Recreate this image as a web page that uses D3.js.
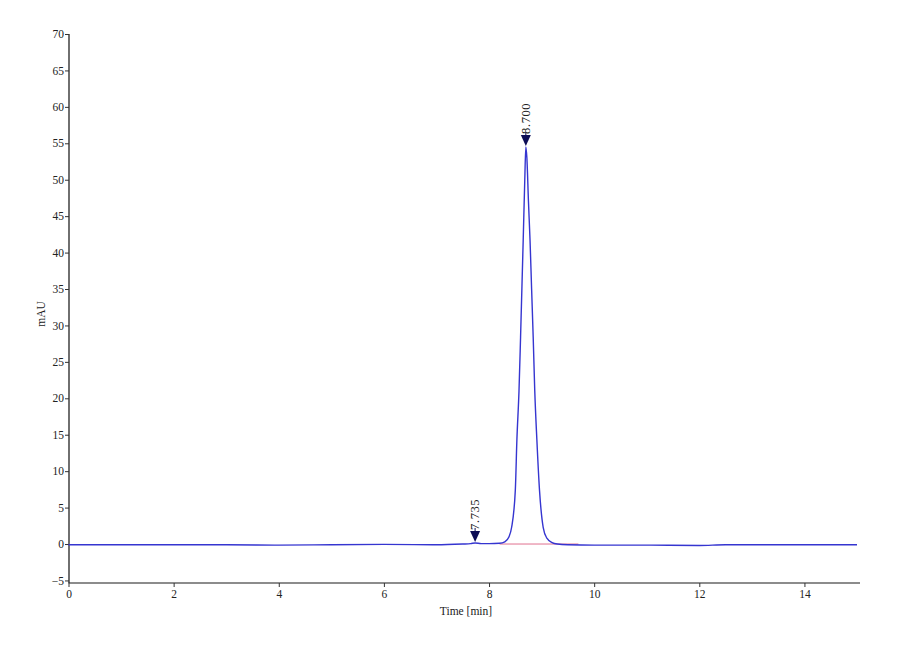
<!DOCTYPE html>
<html>
<head>
<meta charset="utf-8">
<script src="https://cdn.jsdelivr.net/npm/d3@7"></script>
<style>
  body { margin: 0; background: #fff; }
  svg text { font-family: "Liberation Serif", "DejaVu Serif", serif; }
</style>
</head>
<body>
<svg id="chart" width="900" height="660"></svg>
<script>
// trace (time in min, signal in mAU)
var traceTime = [0, 1, 2, 3, 4, 5, 6, 7, 7.5, 7.65, 7.735, 7.85, 8.0, 8.2, 8.3, 8.38, 8.43, 8.5, 8.53, 8.57, 8.6, 8.65, 8.68, 8.70, 8.72, 8.75, 8.78, 8.81, 8.84, 8.87, 8.91, 8.96, 9.03, 9.1, 9.2, 9.3, 9.5, 10, 11, 12, 12.5, 13, 14, 15];
var traceValue = [-0.1, -0.1, -0.1, -0.1, -0.15, -0.1, -0.05, -0.1, 0.0, 0.05, 0.15, 0.05, 0.05, 0.1, 0.3, 1.0, 2.3, 7.4, 14.3, 21, 28.4, 41.7, 50, 54.5, 53, 47, 41.7, 35, 28.4, 21, 14.3, 7.4, 2.3, 0.8, 0.2, 0.0, -0.1, -0.15, -0.15, -0.2, -0.1, -0.1, -0.1, -0.1];

// integration baseline
var baseTime = [8.2, 9.7];
var baseValue = [0, 0];

// peak labels
var peakTime = [7.735, 8.700];
var peakValue = [0.15, 54.5];
var peakLabel = ["7.735", "8.700"];

var xTicks = [0, 2, 4, 6, 8, 10, 12, 14];
var yTicks = [-5, 0, 5, 10, 15, 20, 25, 30, 35, 40, 45, 50, 55, 60, 65, 70];

var svg = d3.select("#chart");

var x = d3.scaleLinear().domain([0, 15]).range([68.5, 857]);
var y = d3.scaleLinear().domain([-5.35, 70]).range([583, 34]);

// axes
var xAxis = svg.append("g").attr("transform", "translate(0,583)")
  .call(d3.axisBottom(x).tickValues(xTicks).tickSize(4).tickPadding(3).tickFormat(d3.format("d")));
xAxis.select(".domain").attr("stroke", "#666").attr("stroke-width", 1.6).attr("d", "M68.5,0H860");
xAxis.selectAll(".tick line").attr("stroke", "#333");
xAxis.selectAll("text").attr("font-size", 11.5).attr("fill", "#222");

var yAxis = svg.append("g").attr("transform", "translate(69,0)")
  .call(d3.axisLeft(y).tickValues(yTicks).tickSize(4).tickPadding(1).tickFormat(d3.format("d")));
yAxis.select(".domain").attr("stroke", "#222").attr("stroke-width", 1.3).attr("d", "M0,583V34");
yAxis.selectAll(".tick line").attr("stroke", "#333");
yAxis.selectAll("text").attr("font-size", 11.5).attr("fill", "#222");

svg.append("text").attr("x", 466).attr("y", 615).attr("text-anchor", "middle")
  .attr("font-size", 11.5).attr("fill", "#222").text("Time [min]");
svg.append("text").attr("transform", "translate(45,314) rotate(-90)").attr("text-anchor", "middle")
  .attr("font-size", 11.5).attr("fill", "#222").text("mAU");

// baseline
var baseData = d3.zip(baseTime, baseValue);
svg.append("path").datum(baseData)
  .attr("d", d3.line().x(function(d) { return x(d[0]); }).y(function(d) { return y(d[1]); }))
  .attr("fill", "none").attr("stroke", "#e07090").attr("stroke-width", 1);

// trace
var traceData = d3.zip(traceTime, traceValue);
svg.append("path").datum(traceData)
  .attr("d", d3.line().curve(d3.curveMonotoneX).x(function(d) { return x(d[0]); }).y(function(d) { return y(d[1]); }))
  .attr("fill", "none").attr("stroke", "#3535d0").attr("stroke-width", 1.4);

// peak markers
peakTime.forEach(function(t, i) {
  var px = x(t), py = y(peakValue[i]) - 1;
  svg.append("path")
    .attr("d", "M" + (px - 5) + "," + (py - 11) + "L" + (px + 5) + "," + (py - 11) + "L" + px + "," + py + "Z")
    .attr("fill", "#0c0c55");
  svg.append("line").attr("x1", px).attr("x2", px).attr("y1", py - 14).attr("y2", py - 10)
    .attr("stroke", "#0c0c55").attr("stroke-width", 1);
  svg.append("text").attr("transform", "translate(" + (px + 4) + "," + (py - 12) + ") rotate(-90)")
    .attr("font-size", 12.5).attr("letter-spacing", 0.6).attr("fill", "#222").text(peakLabel[i]);
});
</script>
</body>
</html>
